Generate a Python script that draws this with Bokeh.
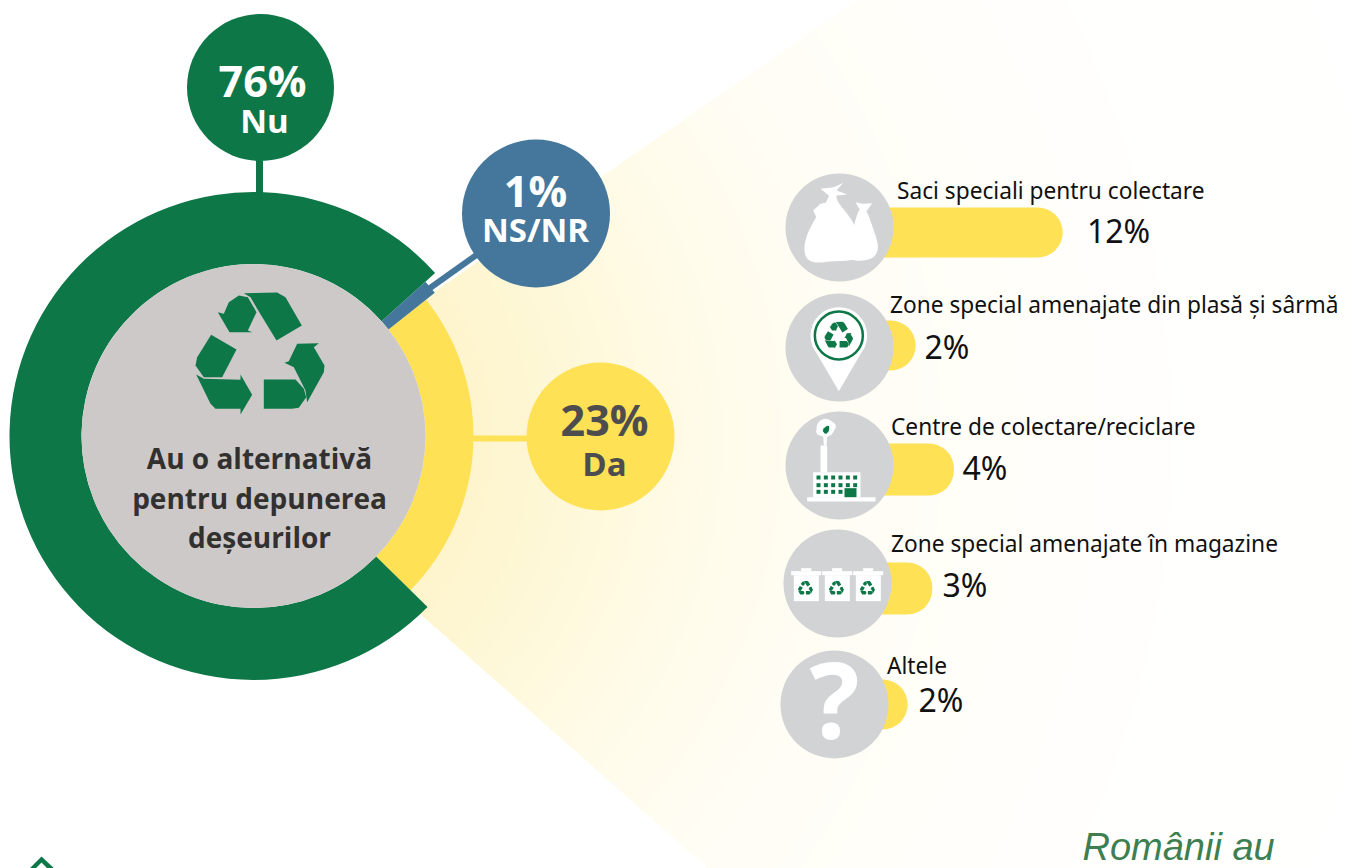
import math
from bokeh.plotting import figure
from bokeh.models import Range1d
from bokeh.core.properties import value
from bokeh.embed import file_html
from bokeh.resources import INLINE

# ---- data -----
answers = ["Nu", "NS/NR", "Da"]
shares = [76, 1, 23]
share_labels = ["76%", "1%", "23%"]
title_lines = ["Au o alternativă", "pentru depunerea", "deșeurilor"]
options = ["Saci speciali pentru colectare", "Zone special amenajate din plasă și sârmă",
           "Centre de colectare/reciclare", "Zone special amenajate în magazine", "Altele"]
option_values = [12, 2, 4, 3, 2]
footer = "Românii au"

# ---- layout / styles -----
GREEN, BLUE, YELLOW = "#0E7748", "#44779B", "#FFE155"
GREY_C, GREY_I = "#CDC9C8", "#D1D3D4"
ring_colors = [GREEN, BLUE, YELLOW]
ring_outer = [244, 231, 220]
CX, CY, R_IN = 253, 435.5, 172
bubble_x = [260, 535.5, 600]
bubble_y = [87, 213, 436]
bubble_r = [73.5, 74, 74]
icon_x = [839, 839, 839, 837, 834]
icon_y = [227, 347, 465, 583, 704]
bar_y = [232, 345, 469, 588, 704]
bar_h = [50, 50, 52, 52, 50]
bar_base, bar_scale = 899, 13.6
bar_nudge = [0, -11, 0, -8, -19]
label_x = [896.5, 889.5, 890.5, 890.5, 886.5]
label_y = [189.5, 303.5, 425.5, 542.5, 664.5]
pct_x = [1086.5, 924, 962, 942, 918]
pct_y = [230, 346, 467, 584, 699]


def Y(y):
    return 868 - y


p = figure(width=1352, height=868, x_range=Range1d(0, 1352), y_range=Range1d(0, 868),
           x_axis_type=None, y_axis_type=None, toolbar_location=None, output_backend="svg",
           min_border=0, outline_line_color=None, background_fill_color="white")
p.grid.visible = False


def poly(pts, color, conv=None):
    if conv:
        pts = [conv(*q) for q in pts]
    p.patch([q[0] for q in pts], [Y(q[1]) for q in pts], fill_color=color, line_color=None)


def smooth(pts, n=2):
    for _ in range(n):
        out = []
        for a, b in zip(pts, pts[1:] + pts[:1]):
            out.append((a[0] * 0.75 + b[0] * 0.25, a[1] * 0.75 + b[1] * 0.25))
            out.append((a[0] * 0.25 + b[0] * 0.75, a[1] * 0.25 + b[1] * 0.75))
        pts = out
    return pts


# pale fan behind everything
stops = [(200, (254, 244, 200)), (300, (254, 246, 210)), (480, (255, 251, 232)), (600, (255, 253, 243)),
         (850, (255, 254, 251)), (1050, (255, 255, 254)), (1300, (255, 255, 255))]


def fan_col(r):
    for (a, ca), (b, cb) in zip(stops, stops[1:]):
        if a <= r <= b:
            t = (r - a) / (b - a)
            return "#%02x%02x%02x" % tuple(round(x + (y - x) * t) for x, y in zip(ca, cb))
    return "#ffffff"


radii = list(range(1300, 190, -10))
p.wedge(x=[222] * len(radii), y=[Y(438)] * len(radii), radius=radii,
        start_angle=math.radians(-41.5), end_angle=math.radians(34.6),
        fill_color=[fan_col(r) for r in radii], line_color=None)

# white edge along the blue leader
p.segment([431], [Y(291)], [479], [Y(258)], line_color="white", line_width=3)

# donut
ang = -44.5
order = [2, 1, 0]
for i in order:
    span = shares[i] * 3.6
    p.annular_wedge(x=[CX], y=[Y(CY)], inner_radius=R_IN, outer_radius=ring_outer[i],
                    start_angle=math.radians(ang), end_angle=math.radians(ang + span),
                    fill_color=ring_colors[i], line_color=None)
    ang += span
p.circle(x=[CX], y=[Y(CY)], radius=R_IN, fill_color=GREY_C, line_color=None)

# leaders and bubbles
p.segment([259], [Y(160)], [259], [Y(195)], line_color=GREEN, line_width=7)
p.segment([426], [Y(290)], [478], [Y(253)], line_color=BLUE, line_width=6)
p.segment([470], [Y(438)], [530], [Y(438)], line_color=YELLOW, line_width=6)
p.circle(x=bubble_x, y=[Y(v) for v in bubble_y], radius=bubble_r, fill_color=ring_colors, line_color=None)

# recycling symbol
RECY = [
    [(250, 878), (350, 876), (375, 890), (424, 975), (348, 1020), (290, 925), (270, 890)],
    [(172, 935), (190, 940), (205, 905), (235, 885), (262, 890), (288, 935), (262, 990), (275, 995), (207, 995)],
    [(152, 1003), (228, 1047), (185, 1130), (130, 1130), (105, 1095), (110, 1070)],
    [(107, 1122), (130, 1135), (240, 1138), (240, 1122), (275, 1183), (240, 1242), (240, 1225), (165, 1225), (150, 1210)],
    [(310, 1137), (405, 1137), (430, 1165), (437, 1190), (415, 1222), (395, 1225), (310, 1225)],
    [(372, 1087), (385, 1082), (410, 1030), (475, 1028), (460, 1040), (492, 1095), (490, 1115), (440, 1205), (435, 1170), (400, 1100)],
]


def recycle(cx, cy, s):
    for piece in RECY:
        poly([(cx + (160 + a / 3 - 260) * s, cy + (b / 3 - 354) * s) for a, b in piece], GREEN)


recycle(260, 354, 1)

# bars
right_ends = [bar_base + v * bar_scale + n for v, n in zip(option_values, bar_nudge)]
p.hbar(y=[Y(v) for v in bar_y], left=[850] * 5, right=right_ends, height=bar_h,
       fill_color=YELLOW, line_color=None, border_radius=25)
p.circle(x=icon_x, y=[Y(v) for v in icon_y], radius=54, fill_color=GREY_I, line_color=None)


def z2(a, b):
    return (770 + a / 3, 170 + b / 3)


def z4(a, b):
    return (770 + a / 3, 520 + b / 3)


# bags
poly(smooth([(178, 70), (198, 70), (198, 90), (235, 135), (268, 190), (280, 240), (258, 270), (180, 272), (140, 278),
             (108, 268), (100, 235), (108, 195), (130, 150), (165, 100)]), "white", z2)
poly([(150, 55), (190, 50), (218, 37), (198, 60), (230, 72), (200, 75), (178, 78)], "white", z2)
poly([(128, 120), (150, 100), (172, 95), (160, 112), (178, 130), (140, 145)], "white", z2)
poly(smooth([(272, 112), (288, 118), (305, 165), (322, 215), (322, 245), (302, 268), (250, 272), (240, 260),
             (250, 165), (262, 125)]), "white", z2)
poly([(255, 95), (275, 100), (305, 98), (288, 122), (268, 118)], "white", z2)

# map pin
pc = z2(205, 495)
p.circle(x=[pc[0]], y=[Y(pc[1])], radius=85 / 3, fill_color="white", line_color=None)
poly([(125, 525), (285, 525), (205, 662)], "white", z2)
p.circle(x=[pc[0]], y=[Y(pc[1])], radius=72 / 3, fill_color="white", line_color=GREEN, line_width=2.5)
recycle(pc[0], pc[1], 0.22)

# factory
poly([(110, 980), (315, 980), (315, 993), (110, 993)], "white", z2)
poly([(128, 905), (270, 905), (270, 980), (128, 980)], "white", z2)
poly([(150, 825), (170, 825), (170, 905), (150, 905)], "white", z2)
poly([(158, 795), (170, 795), (168, 825), (160, 825)], "white", z2)
for a, b, r in [(165, 772, 27), (182, 768, 14), (150, 782, 13)]:
    c = z2(a, b)
    p.circle(x=[c[0]], y=[Y(c[1])], radius=r / 3, fill_color="white", line_color=None)
poly(smooth([(175, 762), (177, 780), (165, 793), (154, 778)], 1), GREEN, z2)
for row, b in enumerate([915, 938, 958]):
    for col, a in enumerate([138, 160, 182, 204, 226, 248]):
        if row == 2 and col > 3:
            continue
        poly([(a, b), (a + 12, b), (a + 12, b + 12), (a, b + 12)], GREEN, z2)
poly([(222, 953), (258, 953), (258, 980), (222, 980)], GREEN, z2)

# bins
for dx in (0, 93, 186):
    poly([(62 + dx, 152), (152 + dx, 152), (152 + dx, 164), (62 + dx, 164)], "white", z4)
    poly([(92 + dx, 143), (122 + dx, 143), (122 + dx, 152), (92 + dx, 152)], "white", z4)
    poly([(70 + dx, 164), (145 + dx, 164), (145 + dx, 242), (70 + dx, 242)], "white", z4)
    c = z4(105 + dx, 203)
    recycle(c[0], c[1], 0.115)

# logo tip at the bottom-left
poly([(27, 870), (41, 856), (56, 870), (49, 870), (41, 862), (33, 870)], GREEN)


def text(xs, ys, txt, size, color, align="center", font="Open Sans", style="normal"):
    p.text(x=xs, y=[Y(v) for v in ys], text=txt, text_font=value(font), text_font_size=size, text_color=color,
           text_align=align, text_baseline="middle", text_font_style=style)


text([262, 535, 604], [80, 190, 419], share_labels, "43px", ["white", "white", "#4d4d4f"], style="bold")
text([264, 535, 604], [120, 229, 463], answers, "33px", ["white", "white", "#4d4d4f"], style="bold")
text([259, 259, 259], [457, 497, 536], title_lines, "28px", "#333030", style="bold")
text(label_x, label_y, options, "22.7px", "#111111", align="left", font="Noto Sans")
text(pct_x, pct_y, [f"{v}%" for v in option_values], "32px", "#111111", align="left", font="Noto Sans")
text([834], [698], ["?"], "105px", "white", style="bold")
text([1082], [846], [footer], "38px", "#3D7F50", align="left", font="Liberation Sans", style="italic")

open("out.html", "w").write(file_html(p, INLINE))
